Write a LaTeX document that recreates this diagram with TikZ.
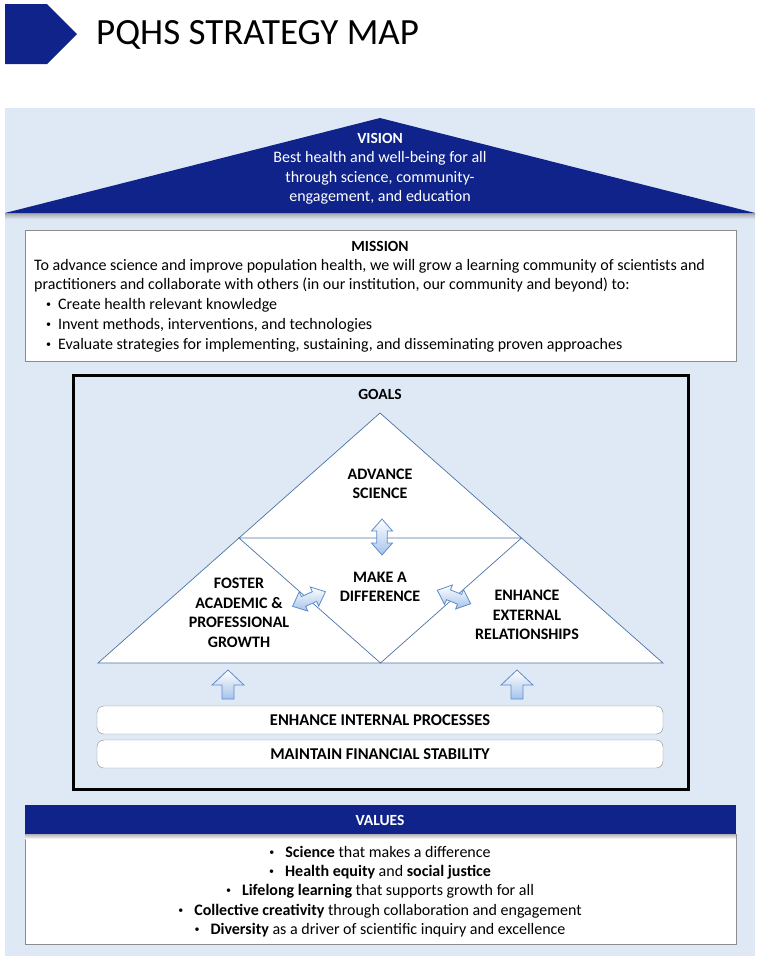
\documentclass[tikz,border=0pt]{standalone}
\usepackage{fontspec}
\setmainfont{Carlito}
\usetikzlibrary{arrows.meta}
\definecolor{navy}{RGB}{15,35,138}
\definecolor{panel}{RGB}{222,233,245}
\definecolor{edgegray}{RGB}{140,140,140}
\definecolor{triline}{RGB}{75,115,165}
\definecolor{arrowline}{RGB}{95,140,205}
\definecolor{arrowfill}{RGB}{165,195,235}

\tikzset{
  plaintext/.style={inner sep=0pt, font=\fontsize{16}{19}\selectfont},
  headtext/.style={inner sep=0pt, font=\fontsize{15.5}{19}\selectfont\bfseries},
  goaltext/.style={align=center, inner sep=0pt, font=\fontsize{16}{19.5}\selectfont\bfseries},
  blockarrow/.style={draw=arrowline, line width=0.8pt, top color=white, bottom color=arrowfill},
  barbox/.style={draw=edgegray, fill=white, rounded corners=7pt, minimum width=566pt, minimum height=28pt, font=\fontsize{16.5}{19}\selectfont\bfseries}
}

\newcommand\smallbullet{\raisebox{1.5pt}{\fontsize{10}{10}\selectfont\textbullet}}

% double headed block arrow: centre x, centre y, angle
\newcommand\dblarrow[3]{
  \begin{scope}[shift={(#1,#2)}, rotate=#3]
    \draw[blockarrow] (-18,0) -- (-6,-10.5) -- (-6,-5.3) -- (6,-5.3) -- (6,-10.5) -- (18,0)
      -- (6,10.5) -- (6,5.3) -- (-6,5.3) -- (-6,10.5) -- cycle;
  \end{scope}
}

\begin{document}
\begin{tikzpicture}[x=1pt,y=-1pt]
 \useasboundingbox (0,0) rectangle (760,956);

 % title
 \fill[navy] (5,4) -- (47,4) -- (77,34) -- (47,64) -- (5,64) -- cycle;
 \node[anchor=west, inner sep=0pt, font=\fontsize{37}{40}\selectfont] (title) at (96,35) {PQHS STRATEGY MAP};

 % background panel
 \fill[panel] (5,108) rectangle (755,956);

 % vision roof
 \shade[top color=gray!70, bottom color=panel] (5,213) rectangle (755,219);
 \fill[navy] (5,213) -- (380,118) -- (755,213) -- cycle;
 \node[white, headtext] (vision) at (380,138) {VISION};
 \foreach \y/\txt in {162/{Best health and well-being for all}, 182/{through science, community-}, 201/{engagement, and education}}
   \node[white, plaintext, anchor=base] at (380,\y) {\txt};

 % mission
 \draw[edgegray, fill=white] (25,230) rectangle (736,361);
 \node[headtext] (mission) at (380,246) {MISSION};
 \node[plaintext, anchor=base west] (m1) at (34,270) {To advance science and improve population health, we will grow a learning community of scientists and};
 \node[plaintext, anchor=base west] (m2) at (34,289.5) {practitioners and collaborate with others (in our institution, our community and beyond) to:};
 \foreach \y/\txt in {309/{Create health relevant knowledge}, 329/{Invent methods, interventions, and technologies}, 349/{Evaluate strategies for implementing, sustaining, and disseminating proven approaches}}
 {
   \node[plaintext, anchor=base west] at (46,\y) {\smallbullet};
   \node[plaintext, anchor=base west] at (58,\y) {\txt};
 }

 % goals frame
 \draw[line width=3pt] (73,375) rectangle (688,789);
 \node[headtext] (goals) at (380,394) {GOALS};

 \coordinate (apex) at (380,413);
 \coordinate (bl) at (98,663);
 \coordinate (br) at (663,663);
 \coordinate (ml) at (239,538);
 \coordinate (mr) at (521.5,538);
 \coordinate (mb) at (380.5,663);
 \draw[triline, fill=white, line width=0.7pt] (apex) -- (br) -- (bl) -- cycle;
 \draw[triline, line width=0.7pt] (ml) -- (mr) -- (mb) -- cycle;

 \node[goaltext] (science) at (380,484) {ADVANCE\\SCIENCE};
 \node[goaltext] (difference) at (380,587) {MAKE A\\DIFFERENCE};
 \node[goaltext] (foster) at (239,613) {FOSTER\\ACADEMIC \&\\PROFESSIONAL\\GROWTH};
 \node[goaltext] (external) at (527,615) {ENHANCE\\EXTERNAL\\RELATIONSHIPS};

 \dblarrow{382}{537}{90}
 \dblarrow{309}{599}{24}
 \dblarrow{454}{597}{-22}

 % up arrows
 \foreach \x in {228,517}
   \draw[blockarrow] (\x,670) -- (\x+16,685) -- (\x+6,685) -- (\x+6,699) -- (\x-6,699) -- (\x-6,685) -- (\x-16,685) -- cycle;

 \node[barbox] (internal) at (380,720) {ENHANCE INTERNAL PROCESSES};
 \node[barbox] (financial) at (380,754) {MAINTAIN FINANCIAL STABILITY};

 % values
 \draw[edgegray, fill=white] (25,834) rectangle (736,944);
 \shade[top color=gray!60, bottom color=white] (25.5,834) rectangle (735.5,839);
 \fill[navy] (25,805) rectangle (736,834);
 \node[white, headtext] (values) at (380,820) {VALUES};
 \foreach \y/\txt in {857/{\textbf{Science} that makes a difference},
                      876/{\textbf{Health equity} and \textbf{social justice}},
                      895/{\textbf{Lifelong learning} that supports growth for all},
                      915/{\textbf{Collective creativity} through collaboration and engagement},
                      934/{\textbf{Diversity} as a driver of scientific inquiry and excellence}}
   \node[plaintext, anchor=base] at (380,\y) {\smallbullet\hspace{11pt}\txt};
\end{tikzpicture}
\end{document}
